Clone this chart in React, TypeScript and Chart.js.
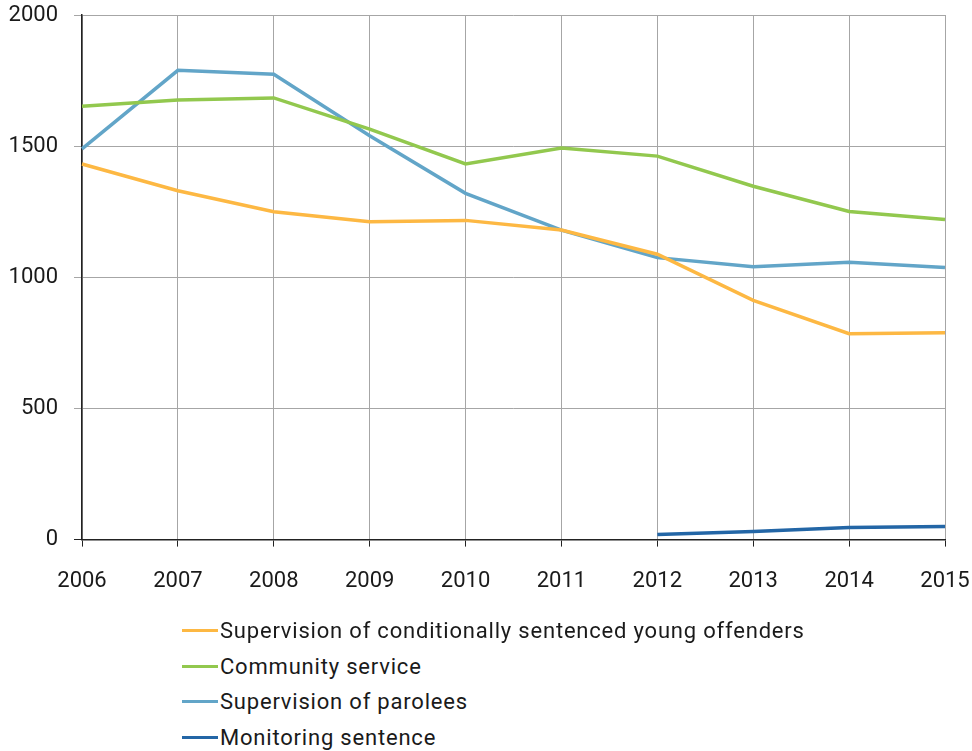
import React, { useEffect, useRef } from "react";
import { Chart, registerables } from "chart.js";

Chart.register(...registerables);

const years = ["2006", "2007", "2008", "2009", "2010", "2011", "2012", "2013", "2014", "2015"];
const youngOffenders = [1432, 1330, 1250, 1212, 1217, 1180, 1088, 912, 785, 789];
const communityService = [1652, 1676, 1684, 1565, 1432, 1493, 1462, 1347, 1251, 1220];
const parolees = [1490, 1789, 1774, 1540, 1320, 1180, 1075, 1040, 1057, 1037];
const monitoring = [null, null, null, null, null, null, 19, 31, 46, 50];

const seriesNames = [
  "Supervision of conditionally sentenced young offenders",
  "Community service",
  "Supervision of parolees",
  "Monitoring sentence",
];
const seriesColors = ["#FDB843", "#92C84E", "#62A5C8", "#2366A6"];
const yTicks = [0, 500, 1000, 1500, 2000];

const FONT = "Roboto, 'DejaVu Sans', sans-serif";

export default function App() {
  const ref = useRef<HTMLCanvasElement | null>(null);
  useEffect(() => {
    document.body.style.margin = "0";
    const data = [youngOffenders, communityService, parolees, monitoring];
    const chart = new Chart(ref.current!, {
      type: "line",
      data: {
        labels: years,
        datasets: data.map((d, i) => ({
          label: seriesNames[i],
          data: d as (number | null)[],
          borderColor: seriesColors[i],
          backgroundColor: seriesColors[i],
          borderWidth: 3.5,
          pointRadius: 0,
          tension: 0,
          spanGaps: false,
        })),
      },
      options: {
        animation: false,
        responsive: false,
        maintainAspectRatio: false,
        layout: { padding: { left: 8, right: 27, top: 15, bottom: 10 } },
        plugins: { legend: { display: false }, tooltip: { enabled: false } },
        scales: {
          x: {
            offset: false,
            afterFit: (axis: any) => {
              axis.paddingLeft = 0;
              axis.paddingRight = 0;
            },
            grid: {
              color: "#a6a6a6",
              lineWidth: 1,
              tickLength: 7,
              tickColor: "#222",
            },
            border: { color: "#222", width: 1.5 },
            ticks: {
              color: "#1a1a1a",
              font: { family: FONT, size: 22 },
              padding: 22,
              maxRotation: 0,
            },
          },
          y: {
            min: 0,
            max: 2000,
            afterBuildTicks: (axis: any) => {
              axis.ticks = yTicks.map((v) => ({ value: v }));
            },
            afterFit: (axis: any) => {
              axis.width = 74;
              axis.paddingTop = 0;
              axis.paddingBottom = 0;
            },
            grid: {
              color: "#a6a6a6",
              lineWidth: 1,
              tickLength: 8,
              tickColor: (ctx: any) => (ctx.tick && ctx.tick.value === 0 ? "#222" : "#a6a6a6"),
            },
            border: { color: "#222", width: 1.5 },
            ticks: {
              color: "#1a1a1a",
              font: { family: FONT, size: 22 },
              padding: 16,
              callback: (v: any) => String(v),
            },
          },
        },
      },
    });
    return () => chart.destroy();
  }, []);

  const rowTops = [630, 666, 701, 737];
  return (
    <div style={{ position: "relative", width: 972, height: 751, background: "#fff", fontFamily: FONT }}>
      <canvas ref={ref} width={972} height={627} style={{ position: "absolute", left: 0, top: 0 }} />
      {seriesNames.map((n, i) => (
        <div
          key={n}
          style={{
            position: "absolute",
            left: 182,
            top: rowTops[i] - 15,
            height: 30,
            display: "flex",
            alignItems: "center",
            fontSize: 22,
            letterSpacing: 0.8,
            color: "#1a1a1a",
            whiteSpace: "nowrap",
          }}
        >
          <span style={{ display: "inline-block", width: 36, height: 3, background: seriesColors[i], marginRight: 2 }} />
          <span>{n}</span>
        </div>
      ))}
    </div>
  );
}
